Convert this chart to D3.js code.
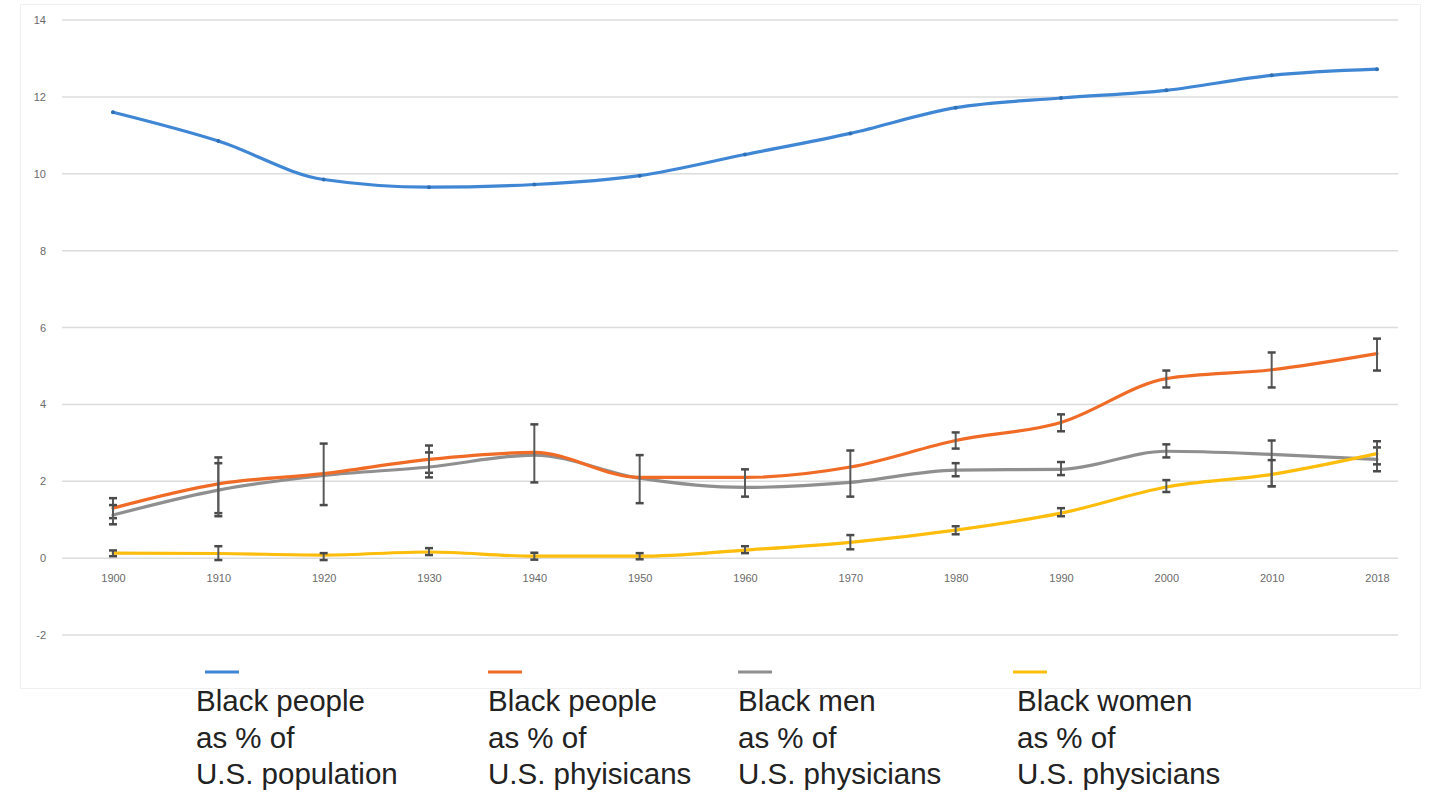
<!DOCTYPE html>
<html>
<head>
<meta charset="utf-8">
<script src="https://cdn.jsdelivr.net/npm/d3@7"></script>
<style>
  html, body { margin: 0; padding: 0; background: #fff; }
  svg { display: block; }
</style>
</head>
<body>
<svg id="chart" width="1440" height="792"></svg>
<script>
// Census years on the horizontal axis
const years = ["1900", "1910", "1920", "1930", "1940", "1950", "1960", "1970", "1980", "1990", "2000", "2010", "2018"];
const yTicks = [-2, 0, 2, 4, 6, 8, 10, 12, 14];

// Percent values per series
const populationPct = [11.6, 10.85, 9.85, 9.65, 9.72, 9.95, 10.5, 11.05, 11.72, 11.97, 12.17, 12.56, 12.72];
const physiciansPct = [1.3, 1.93, 2.2, 2.57, 2.75, 2.1, 2.1, 2.37, 3.06, 3.53, 4.67, 4.9, 5.32];
const menPct = [1.12, 1.77, 2.15, 2.37, 2.68, 2.08, 1.84, 1.97, 2.29, 2.31, 2.78, 2.7, 2.57];
const womenPct = [0.13, 0.12, 0.08, 0.16, 0.05, 0.05, 0.21, 0.41, 0.73, 1.17, 1.85, 2.18, 2.72];

// Error ranges [low, high] per year (null where no bar is shown)
const physiciansErr = [[1.04, 1.56], [1.17, 2.62], null, [2.22, 2.93], null, null, null, null,
  [2.85, 3.27], [3.3, 3.74], [4.44, 4.88], [4.44, 5.35], [4.88, 5.71]];
const menErr = [[0.88, 1.38], [1.09, 2.47], [1.38, 2.98], [2.1, 2.75], [1.97, 3.48], [1.43, 2.68],
  [1.6, 2.31], [1.6, 2.8], [2.13, 2.47], [2.16, 2.5], [2.62, 2.96], [1.87, 3.06], [2.26, 2.88]];
const womenErr = [[0.05, 0.2], [-0.05, 0.31], [-0.05, 0.13], [0.08, 0.26], [-0.04, 0.14], [-0.03, 0.13],
  [0.13, 0.31], [0.23, 0.6], [0.62, 0.83], [1.09, 1.3], [1.72, 2.03], [1.87, 2.55], [2.44, 3.04]];

const seriesNames = [
  ["Black people", "as % of", "U.S. population"],
  ["Black people", "as % of", "U.S. phyisicans"],
  ["Black men", "as % of", "U.S. physicians"],
  ["Black women", "as % of", "U.S. physicians"]
];
const seriesColors = ["#3f86d4", "#f06b26", "#8f8f8f", "#fcbd0c"];

const series = [
  { values: populationPct, err: null },
  { values: physiciansPct, err: physiciansErr },
  { values: menPct, err: menErr },
  { values: womenPct, err: womenErr }
];

const svg = d3.select("#chart");

const x = d3.scalePoint().domain(years).range([113, 1377]);
const y = d3.scaleLinear().domain([-2, 14]).range([635, 20]);

// Faint chart frame
svg.append("rect")
  .attr("x", 20.5).attr("y", 4.5).attr("width", 1400).attr("height", 684)
  .attr("fill", "none").attr("stroke", "#f0f0f0").attr("stroke-width", 1);

// Horizontal gridlines and value labels
const grid = svg.append("g");
grid.selectAll("line").data(yTicks).join("line")
  .attr("x1", 62).attr("x2", 1398)
  .attr("y1", d => y(d)).attr("y2", d => y(d))
  .attr("stroke", "#dcdcdc").attr("stroke-width", 1.5);

const yAxis = d3.axisLeft(y).tickValues(yTicks).tickSize(0).tickPadding(0).tickFormat(d => String(d));
svg.append("g")
  .attr("transform", "translate(46,0)")
  .call(yAxis)
  .call(g => g.select(".domain").remove())
  .call(g => g.selectAll("text")
    .attr("fill", "#6a6a6a")
    .style("font-family", "'Liberation Sans', Arial, sans-serif")
    .style("font-size", "11px"));

// Year labels along the zero line
const xAxis = d3.axisBottom(x).tickSize(0).tickPadding(0);
svg.append("g")
  .attr("transform", "translate(0,574)")
  .call(xAxis)
  .call(g => g.select(".domain").remove())
  .call(g => g.selectAll("text")
    .attr("fill", "#6a6a6a")
    .style("font-family", "'Liberation Sans', Arial, sans-serif")
    .style("font-size", "11px"));

// Series lines
const line = d3.line()
  .x((d, i) => x(years[i]))
  .y(d => y(d))
  .curve(d3.curveMonotoneX);

const linesG = svg.append("g");
// draw in order: men, physicians, women, population
[2, 1, 3, 0].forEach(si => {
  linesG.append("path")
    .datum(series[si].values)
    .attr("d", line)
    .attr("fill", "none")
    .attr("stroke", seriesColors[si])
    .attr("stroke-width", 3.2)
    .attr("stroke-linejoin", "round")
    .attr("stroke-linecap", "round");
});

// Small point markers on the population line
linesG.append("g").selectAll("circle")
  .data(populationPct).join("circle")
  .attr("cx", (d, i) => x(years[i]))
  .attr("cy", d => y(d))
  .attr("r", 2)
  .attr("fill", "#2f6fb3");

// Error bars with caps
const errG = svg.append("g");
series.forEach(s => {
  if (!s.err) return;
  const bars = s.err.map((e, i) => e ? { yr: years[i], lo: e[0], hi: e[1] } : null).filter(Boolean);
  const g = errG.append("g");
  g.selectAll("line.stem").data(bars).join("line")
    .attr("class", "stem")
    .attr("x1", d => x(d.yr)).attr("x2", d => x(d.yr))
    .attr("y1", d => y(d.lo)).attr("y2", d => y(d.hi))
    .attr("stroke", "#5a5a5a").attr("stroke-width", 2);
  ["lo", "hi"].forEach(k => {
    g.selectAll("line.cap-" + k).data(bars).join("line")
      .attr("class", "cap-" + k)
      .attr("x1", d => x(d.yr) - 4).attr("x2", d => x(d.yr) + 4)
      .attr("y1", d => y(d[k])).attr("y2", d => y(d[k]))
      .attr("stroke", "#4a4a4a").attr("stroke-width", 2.5);
  });
});

// Legend
const legendX = [205, 488, 738, 1013];
const textX = [196, 488, 738, 1017];
const legend = svg.append("g");
seriesNames.forEach((lines, i) => {
  legend.append("line")
    .attr("x1", legendX[i]).attr("x2", legendX[i] + 34)
    .attr("y1", 672).attr("y2", 672)
    .attr("stroke", seriesColors[i]).attr("stroke-width", 3);
  const t = legend.append("text")
    .attr("x", textX[i]).attr("y", 711)
    .attr("fill", "#222")
    .style("font-family", "'Liberation Sans', Arial, sans-serif")
    .style("font-size", "29.5px");
  lines.forEach((l, j) => {
    t.append("tspan").attr("x", textX[i]).attr("dy", j === 0 ? 0 : 36.5).text(l);
  });
});
</script>
</body>
</html>
